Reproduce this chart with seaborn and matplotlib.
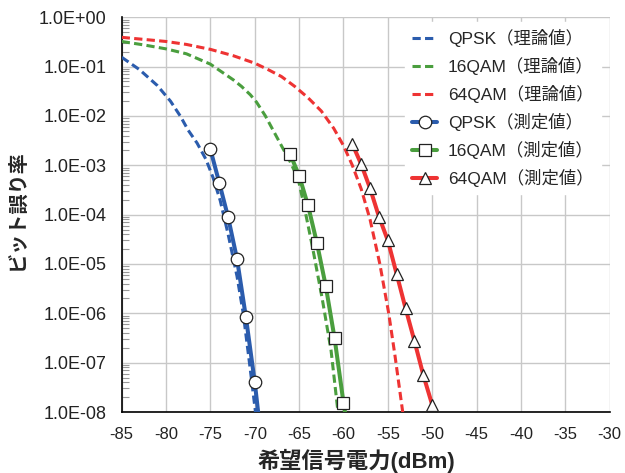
import numpy as np
import pandas as pd
import matplotlib
matplotlib.use("Agg")
import matplotlib.pyplot as plt
from matplotlib.ticker import FuncFormatter, LogLocator, NullFormatter, MultipleLocator
import seaborn as sns

sns.set_style("white")
plt.rcParams['font.family'] = ['Liberation Sans', 'Noto Sans CJK JP', 'DejaVu Sans']
plt.rcParams['axes.unicode_minus'] = False

# theory curves (dBm, log10 BER)
qpsk_th_x = [-85, -83, -81, -79.5, -78.4, -77.5, -76.5, -75.5, -74.7, -73.9, -73.0, -72.0, -71.3, -70.6, -69.9]
qpsk_th_y = [-0.81, -1.06, -1.38, -1.70, -2.0, -2.29, -2.55, -2.88, -3.25, -3.71, -4.4, -5.25, -6.0, -7.0, -8.03]

qam16_th_x = [-85, -82.5, -80, -77.7, -75, -72.4, -71.5, -70.5, -69.8, -68.8, -67.9, -67.0, -66.0, -65.1, -64.5, -63.5, -62.4, -61.4, -60.6]
qam16_th_y = [-0.49, -0.56, -0.64, -0.74, -0.95, -1.27, -1.40, -1.57, -1.72, -2.0, -2.3, -2.6, -2.93, -3.28, -3.77, -4.65, -5.7, -6.75, -8.03]

qam64_th_x = [-85, -80, -77.7, -75, -72.4, -70, -68.5, -67, -65.5, -64.0, -62.5, -61.1, -60.0, -59.0, -58.0, -57.0, -55.9, -54.9, -54.2, -53.3]
qam64_th_y = [-0.406, -0.49, -0.55, -0.65, -0.78, -0.93, -1.06, -1.2, -1.40, -1.63, -1.9, -2.25, -2.6, -3.0, -3.48, -4.1, -5.0, -6.0, -6.85, -8.03]

# measured points
qpsk_x = [-75, -74, -73, -72, -71, -70]
qpsk_ber = [2.1e-3, 4.4e-4, 8.8e-5, 1.26e-5, 8.4e-7, 4.0e-8]
qam16_x = [-66, -65, -64, -63, -62, -61, -60]
qam16_ber = [1.66e-3, 6.2e-4, 1.55e-4, 2.7e-5, 3.6e-6, 3.1e-7, 1.55e-8]
qam64_x = [-59, -58, -57, -56, -55, -54, -53, -52, -51, -50]
qam64_ber = [2.7e-3, 1.05e-3, 3.4e-4, 9.1e-5, 3.0e-5, 6.2e-6, 1.26e-6, 2.75e-7, 5.6e-8, 1.4e-8]

# where each measured trend line meets the bottom edge
qpsk_end = (-69.6, 9.3e-9)
qam16_end = (-59.8, 9.3e-9)
qam64_end = (-49.6, 9.3e-9)

blue = "#2b5cad"
green = "#4a9e3e"
red = "#ee3333"

fig = plt.figure(figsize=(6.25, 4.73), dpi=100)
ax = fig.add_axes([121.7/625, 1-412/473, (609.6-121.7)/625, (412-17.3)/473])

theory = [("QPSK（理論値）", qpsk_th_x, qpsk_th_y, blue),
          ("16QAM（理論値）", qam16_th_x, qam16_th_y, green),
          ("64QAM（理論値）", qam64_th_x, qam64_th_y, red)]
for name, xs, ys, c in theory:
    d = pd.DataFrame({"x": xs, "y": 10.0 ** np.array(ys)})
    sns.lineplot(data=d, x="x", y="y", ax=ax, color=c, linewidth=2.2, label=name,
                 linestyle=(0, (2.7, 1.4)), sort=False, zorder=3)

measured = [("QPSK（測定値）", qpsk_x, qpsk_ber, qpsk_end, blue, "o"),
            ("16QAM（測定値）", qam16_x, qam16_ber, qam16_end, green, "s"),
            ("64QAM（測定値）", qam64_x, qam64_ber, qam64_end, red, "^")]
for name, xs, ys, end, c, m in measured:
    d = pd.DataFrame({"x": xs + [end[0]], "y": ys + [end[1]]})
    sns.lineplot(data=d, x="x", y="y", ax=ax, color=c, linewidth=2.9, label=name,
                 marker=m, markersize=9, markerfacecolor="white",
                 markeredgecolor="#222222", markeredgewidth=0.9,
                 markevery=list(range(len(xs))), sort=False, zorder=4)

ax.set_yscale("log")
ax.set_ylim(1e-8, 1)
ax.set_xlim(-85, -30)
ax.xaxis.set_major_locator(MultipleLocator(5))
ax.yaxis.set_major_locator(LogLocator(base=10, numticks=20))
ax.yaxis.set_minor_locator(LogLocator(base=10, subs=np.arange(2, 10), numticks=20))
ax.yaxis.set_minor_formatter(NullFormatter())
ax.yaxis.set_major_formatter(FuncFormatter(lambda v, p: f"{v:.1E}"))

ax.grid(True, which="major", color="#c8c8c8", lw=1)
for s in ["top", "right"]:
    ax.spines[s].set_visible(False)
for s in ["left", "bottom"]:
    ax.spines[s].set_color("black")
    ax.spines[s].set_linewidth(1.2)

ax.tick_params(axis="y", which="major", direction="in", length=6, color="#888888", labelsize=13, pad=11, labelcolor="#222222")
ax.tick_params(axis="y", which="minor", direction="in", length=5, color="#999999", width=0.8, left=True)
ax.tick_params(axis="x", which="major", direction="in", length=5, color="#888888", labelsize=12, pad=10.5, labelcolor="#222222")

ax.set_xlabel("希望信号電力(dBm)", fontsize=16, fontweight="bold")
ax.set_ylabel("ビット誤り率", fontsize=14.5, fontweight="bold")
ax.xaxis.set_label_coords((356 - 121.7) / 487.9, -(449 - 412) / 394.7)
ax.yaxis.set_label_coords((27 - 121.7) / 487.9, (412 - 210) / 394.7)

leg = ax.legend(loc="upper left", bbox_to_anchor=(405/625, 1 - 22/473), bbox_transform=fig.transFigure,
                fontsize=12.5, frameon=True, facecolor="white", edgecolor="white", framealpha=1,
                handlelength=1.45, handletextpad=0.63, labelspacing=0.57, borderaxespad=0)

fig.savefig("out.png", dpi=100)
